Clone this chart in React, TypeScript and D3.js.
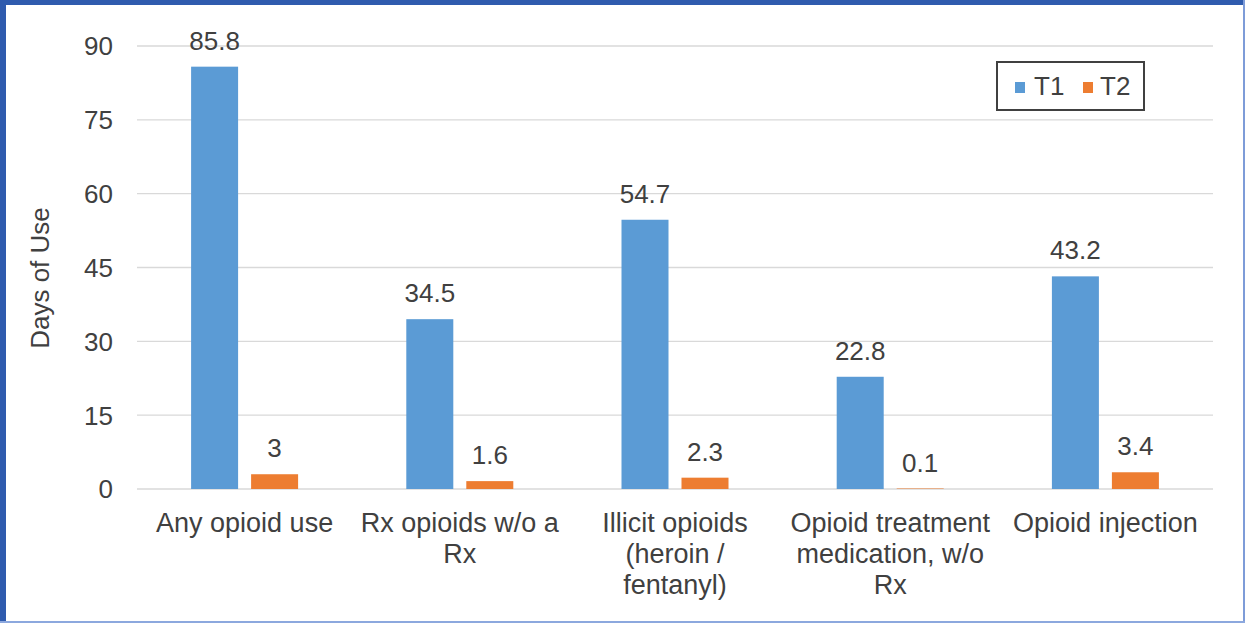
import React from "react";
import * as d3 from "d3";

const categories = ["Any opioid use", "Rx opioids w/o a Rx", "Illicit opioids (heroin / fentanyl)", "Opioid treatment medication, w/o Rx", "Opioid injection"];
const categoryLines = [
  ["Any opioid use"],
  ["Rx opioids w/o a", "Rx"],
  ["Illicit opioids", "(heroin /", "fentanyl)"],
  ["Opioid treatment", "medication, w/o", "Rx"],
  ["Opioid injection"],
];
const series = ["T1", "T2"];
const t1Values = [85.8, 34.5, 54.7, 22.8, 43.2];
const t2Values = [3, 1.6, 2.3, 0.1, 3.4];
const yTicks = [0, 15, 30, 45, 60, 75, 90];
const colors = ["#5B9BD5", "#ED7D31"];

const W = 1245;
const H = 623;
const FONT = "'Liberation Sans', Arial, sans-serif";
const TEXT = "#404040";

export default function App() {
  const left = 137, right = 1213, top = 46, bottom = 489;
  const y = d3.scaleLinear().domain([0, 90]).range([bottom, top]);
  const x0 = d3.scaleBand<string>().domain(categories).range([left, right]).padding(0);
  const groupW = 107;
  const x1 = d3.scaleBand<string>().domain(series).range([0, groupW]).paddingInner(13 / 60).paddingOuter(0);
  const values = [t1Values, t2Values];

  return (
    <svg width={W} height={H} style={{ position: "absolute", left: 0, top: 0, background: "#fff" }} fontFamily={FONT}>
      <rect x={0} y={0} width={W} height={H} fill="#fff" />
      {/* frame */}
      <rect x={0} y={0} width={W} height={5} fill="#2F5BAE" />
      <rect x={0} y={0} width={6} height={H} fill="#2F5BAE" />
      <rect x={W - 2} y={0} width={2} height={H} fill="#7E9CD8" />
      <rect x={0} y={H - 2} width={W} height={2} fill="#8CA8DE" />

      {/* grid */}
      {yTicks.map((t) => (
        <g key={t}>
          <line x1={left} x2={right} y1={y(t)} y2={y(t)} stroke="#D9D9D9" strokeWidth={1.3} />
          <text x={113} y={y(t)} dy="0.36em" textAnchor="end" fontSize={26} fill={TEXT}>{t}</text>
        </g>
      ))}

      {/* y label */}
      <text transform={`translate(49,278) rotate(-90)`} textAnchor="middle" fontSize={26} fill={TEXT}>Days of Use</text>

      {/* bars */}
      {categories.map((c, i) => {
        const gx = (x0(c) as number) + (x0.bandwidth() - groupW) / 2;
        return (
          <g key={c}>
            {series.map((s, j) => {
              const v = values[j][i];
              const bx = gx + (x1(s) as number);
              return (
                <g key={s}>
                  <rect x={bx} y={y(v)} width={x1.bandwidth()} height={bottom - y(v)} fill={colors[j]} />
                  <text x={bx + x1.bandwidth() / 2} y={y(v) - 17} textAnchor="middle" fontSize={26} fill={TEXT}>{v}</text>
                </g>
              );
            })}
            <text textAnchor="middle" fontSize={27} fill={TEXT}>
              {categoryLines[i].map((ln, k) => (
                <tspan key={k} x={(x0(c) as number) + x0.bandwidth() / 2} y={532 + k * 31}>{ln}</tspan>
              ))}
            </text>
          </g>
        );
      })}

      {/* legend */}
      <rect x={997} y={62} width={147} height={48} fill="#fff" stroke="#404040" strokeWidth={2} />
      {series.map((s, j) => (
        <g key={s}>
          <rect x={1015 + j * 68} y={82} width={10} height={11} fill={colors[j]} />
          <text x={1034 + j * 66} y={95} fontSize={26} fill={TEXT}>{s}</text>
        </g>
      ))}
    </svg>
  );
}
